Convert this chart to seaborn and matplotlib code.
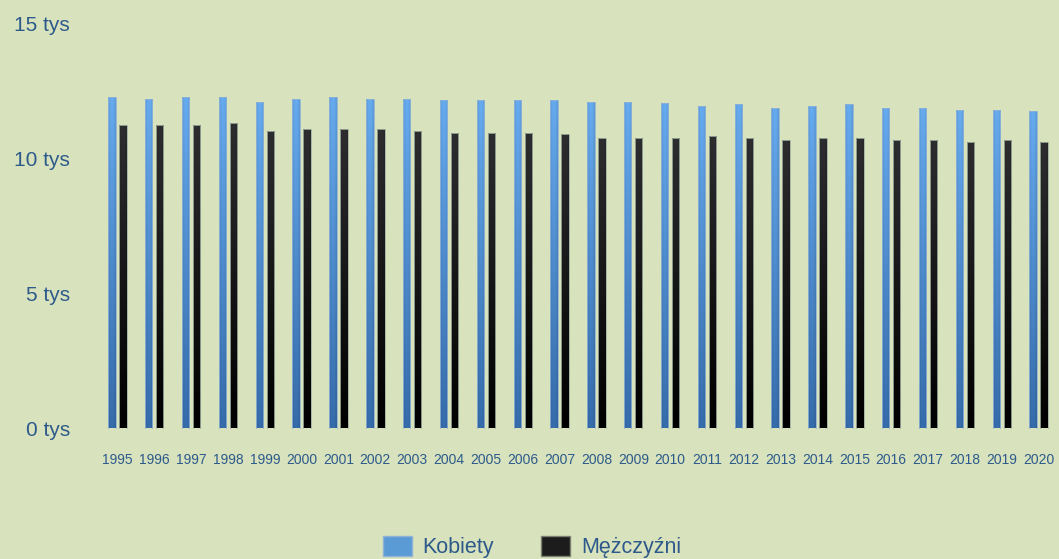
import numpy as np
import pandas as pd
import seaborn as sns
import matplotlib.pyplot as plt
from matplotlib.patches import Patch
from matplotlib.ticker import FuncFormatter

lata = [str(r) for r in range(1995, 2021)]
kobiety = [12270, 12220, 12270, 12270, 12100, 12220, 12270, 12220, 12220, 12160,
           12160, 12160, 12160, 12100, 12100, 12040, 11950, 12030, 11880, 11950,
           12030, 11880, 11880, 11810, 11810, 11750]
mezczyzni = [11230, 11230, 11230, 11300, 11020, 11090, 11090, 11090, 11020, 10950,
             10950, 10950, 10890, 10770, 10770, 10770, 10830, 10770, 10690, 10770,
             10770, 10690, 10690, 10620, 10690, 10620]
serie = ["Kobiety", "Mężczyźni"]

tlo = "#d8e3bd"
tekst = "#2d5a8b"

df = pd.DataFrame({
    "rok": lata * 2,
    "wartosc": kobiety + mezczyzni,
    "plec": [serie[0]] * len(lata) + [serie[1]] * len(lata),
})

sns.set_theme(style="white")
plt.rcParams["font.family"] = ["Liberation Sans", "DejaVu Sans"]

fig = plt.figure(figsize=(10.59, 5.59), dpi=100, facecolor=tlo)
ax = fig.add_axes([99 / 1059, 1 - 428.5 / 559, 958 / 1059, 405 / 559])
ax.set_facecolor(tlo)

sns.barplot(data=df, x="rok", y="wartosc", hue="plec", hue_order=serie,
            palette=["#5b9bd5", "#1a1a1a"], width=0.6, gap=0.33,
            legend=False, ax=ax)

# gradient fill for bars (Excel-like look)
kolory = {
    0: (np.array([0.19, 0.38, 0.60]), np.array([0.36, 0.60, 0.84])),
    1: (np.array([0.0, 0.0, 0.0]), np.array([0.16, 0.16, 0.17])),
}
xl, yl = ax.get_xlim(), (0, 15000)
n = len(lata)
for i, p in enumerate(ax.patches[:2 * n]):
    s = i // n
    dol, gora = kolory[s]
    x0, w, h = p.get_x(), p.get_width(), p.get_height()
    ty = np.linspace(0, 1, 64)[:, None, None]
    tx = np.linspace(-1, 1, 16)[None, :, None]
    img = dol + (gora - dol) * ty
    img = img * (1 + 0.12 * (1 - tx ** 2))
    img = np.clip(img, 0, 1)
    im = ax.imshow(img, extent=[x0, x0 + w, 0, h], origin="lower",
                   aspect="auto", zorder=2, interpolation="bilinear")
    im.set_clip_path(p)
    p.set_facecolor("none")
    p.set_edgecolor("#9fb0a0" if s == 1 else "#8fb3d6")
    p.set_linewidth(0.6)
    p.set_zorder(3)

ax.set_xlim(xl)
ax.set_ylim(yl)
ax.set_yticks([0, 5000, 10000, 15000])
ax.yaxis.set_major_formatter(FuncFormatter(lambda v, _: f"{int(v / 1000)} tys"))
ax.tick_params(axis="y", length=0, pad=21, labelsize=15, labelcolor=tekst)
ax.tick_params(axis="x", length=0, pad=18, labelsize=10, labelcolor=tekst)
ax.set_xlabel("")
ax.set_ylabel("")
for sp in ax.spines.values():
    sp.set_visible(False)

uchwyty = [Patch(facecolor="#5b9bd5", edgecolor="#8fb3d6"),
           Patch(facecolor="#1c1c1c", edgecolor="#7a8070")]
leg = fig.legend(uchwyty, serie, loc="center", bbox_to_anchor=(532 / 1059, 1 - 547 / 559),
                 ncol=2, frameon=False, fontsize=15.5, handlelength=1.35,
                 handleheight=1.05, handletextpad=0.5, columnspacing=2.2)
for t in leg.get_texts():
    t.set_color(tekst)

fig.savefig("out.png", dpi=100, facecolor=tlo)
